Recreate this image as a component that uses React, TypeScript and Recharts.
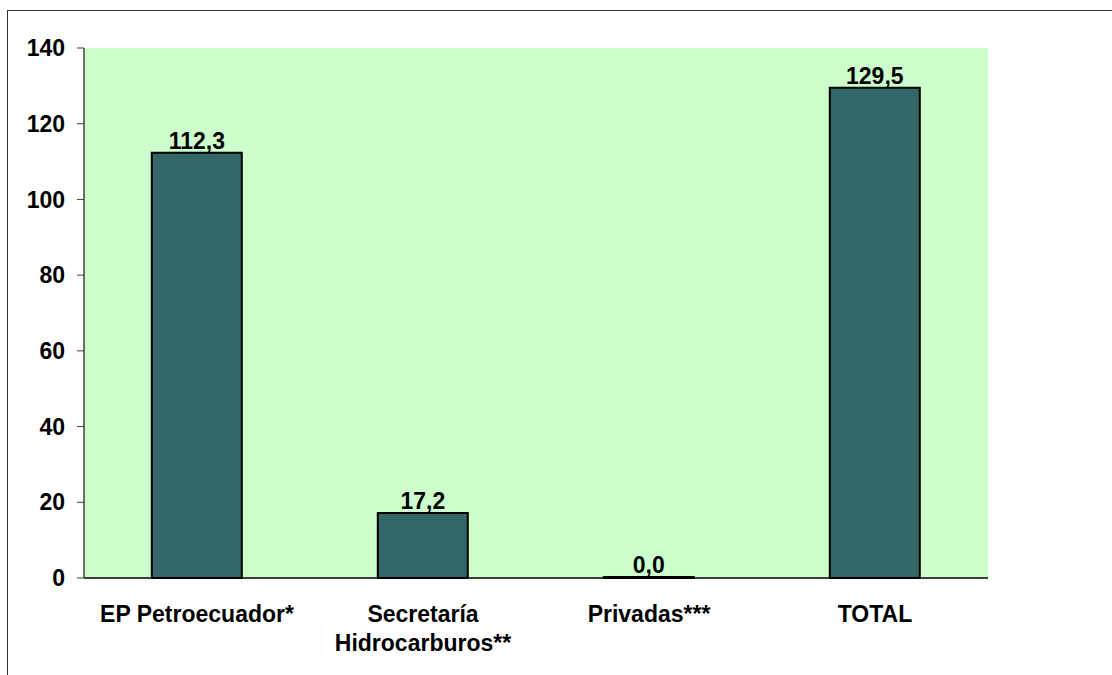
import { BarChart, Bar, XAxis, YAxis, CartesianGrid, LabelList } from "recharts";

const categories = ["EP Petroecuador*", "Secretaría\nHidrocarburos**", "Privadas***", "TOTAL"];
const values = [112.3, 17.2, 0.0, 129.5];
const yTicks = [0, 20, 40, 60, 80, 100, 120, 140];
const edgeTicks = [0, 1, 2, 3, 4];

const FONT = "'Liberation Sans', Arial, sans-serif";
const FS = 23;

const data = categories.map((name, i) => ({ name, value: values[i] }));

function CategoryTick(props: any) {
    const { x, y, payload } = props;
    const lines = String(payload.value).split("\n");
    return (
        <text
            x={x}
            y={y + 16}
            textAnchor="middle"
            fontFamily={FONT}
            fontWeight="bold"
            fontSize={FS}
            fill="#000"
        >
            {lines.map((line, i) => (
                <tspan key={i} x={x} dy={i === 0 ? 0 : 29}>
                    {line}
                </tspan>
            ))}
        </text>
    );
}

export default function App() {
    return (
        <div
            style={{
                position: "absolute",
                left: 0,
                top: 0,
                width: 1112,
                height: 675,
                overflow: "hidden",
                background: "#fff",
            }}
        >
            <div
                style={{
                    position: "absolute",
                    left: 7,
                    top: 10,
                    width: 1200,
                    height: 800,
                    borderLeft: "1px solid #333",
                    borderTop: "1px solid #333",
                }}
            />
            <div style={{ position: "absolute", left: 0, top: 0 }}>
                <BarChart
                    width={1112}
                    height={675}
                    data={data}
                    margin={{ top: 48, right: 124, bottom: 17, left: 0 }}
                    barCategoryGap="30%"
                >
                    <CartesianGrid
                        xAxisId="cat"
                        fill="#CCFFCC"
                        horizontal={false}
                        vertical={false}
                    />
                    <XAxis
                        xAxisId="edge"
                        type="number"
                        domain={[0, 4]}
                        ticks={edgeTicks}
                        allowDataOverflow
                        height={0}
                        axisLine={false}
                        tickSize={7}
                        tickLine={{ stroke: "#000" }}
                        tickFormatter={() => ""}
                    />
                    <XAxis
                        xAxisId="cat"
                        dataKey="name"
                        height={80}
                        interval={0}
                        tickSize={7}
                        tickMargin={21}
                        tickLine={false}
                        axisLine={{ stroke: "#000", strokeWidth: 1.5 }}
                        tick={<CategoryTick />}
                    />
                    <XAxis
                        xAxisId="top"
                        orientation="top"
                        type="number"
                        domain={[0, 1]}
                        allowDataOverflow
                        height={0}
                        tick={false}
                        tickLine={false}
                        axisLine={{ stroke: "#888", strokeWidth: 2 }}
                    />
                    <YAxis
                        domain={[0, 140]}
                        ticks={yTicks}
                        width={84}
                        tickSize={7}
                        tickMargin={12}
                        axisLine={{ stroke: "#404040", strokeWidth: 1.5 }}
                        tickLine={{ stroke: "#404040" }}
                        tick={{
                            fontFamily: FONT,
                            fontWeight: "bold",
                            fontSize: FS,
                            fill: "#000",
                        }}
                    />
                    <YAxis
                        yAxisId="r"
                        orientation="right"
                        domain={[0, 140]}
                        width={0}
                        tick={false}
                        tickLine={false}
                        axisLine={{ stroke: "#888", strokeWidth: 2 }}
                    />
                    <Bar
                        dataKey="value"
                        xAxisId="cat"
                        fill="#336666"
                        stroke="#000"
                        strokeWidth={2}
                        minPointSize={1}
                        isAnimationActive={false}
                    >
                        <LabelList
                            dataKey="value"
                            position="top"
                            offset={4}
                            formatter={(v: any) => Number(v).toFixed(1).replace(".", ",")}
                            style={{
                                fontFamily: FONT,
                                fontWeight: "bold",
                                fontSize: FS,
                                fill: "#000",
                            }}
                        />
                    </Bar>
                </BarChart>
            </div>
        </div>
    );
}
